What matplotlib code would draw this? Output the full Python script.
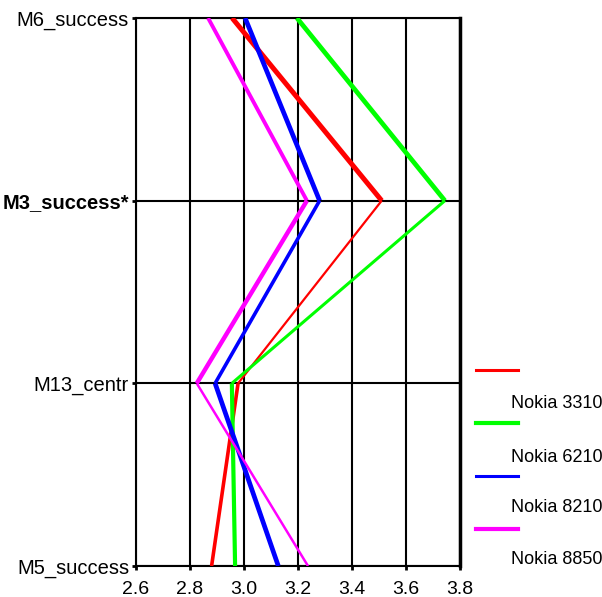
import matplotlib
matplotlib.use("Agg")
import matplotlib.pyplot as plt
from matplotlib.lines import Line2D

# categories, top to bottom
measures = ["M6_success", "M3_success*", "M13_centr", "M5_success"]
phones = ["Nokia 3310", "Nokia 6210", "Nokia 8210", "Nokia 8850"]

# mean values per phone, in the order of measures
nokia_3310 = [2.956, 3.51, 2.978, 2.88]
nokia_6210 = [3.196, 3.744, 2.955, 2.967]
nokia_8210 = [3.004, 3.28, 2.893, 3.127]
nokia_8850 = [2.867, 3.233, 2.825, 3.237]

x_ticks = [2.6, 2.8, 3.0, 3.2, 3.4, 3.6, 3.8]

# drawing style
colors = ["#ff0000", "#00ff00", "#0000ff", "#ff00ff"]
seg_widths = [[3.6, 1.6, 2.6], [3.4, 2.2, 3.0], [3.4, 2.6, 3.4], [2.8, 3.2, 1.8]]
legend_widths = [2.2, 3.0, 2.2, 3.0]


def main():
    plt.rcParams["font.family"] = ["Liberation Sans", "DejaVu Sans"]
    plt.rcParams["font.size"] = 14

    fig = plt.figure(figsize=(6.02, 5.97), dpi=100)
    ax = fig.add_axes([136 / 602, 1 - 566 / 597, 324 / 602, 548 / 597])

    ypos = list(range(len(measures)))
    series = [nokia_3310, nokia_6210, nokia_8210, nokia_8850]
    for vals, col, widths in zip(series, colors, seg_widths):
        for i in range(len(vals) - 1):
            ax.plot(vals[i:i + 2], ypos[i:i + 2], color=col, lw=widths[i],
                    solid_capstyle="butt", zorder=3)

    ax.set_xlim(2.6, 3.8)
    ax.set_ylim(len(measures) - 1, 0)
    ax.set_xticks(x_ticks)
    ax.set_xticklabels([f"{t:.1f}" for t in x_ticks])
    ax.set_yticks(ypos)
    ax.set_yticklabels(measures, fontsize=14.5)
    for lab in ax.get_yticklabels():
        if lab.get_text().endswith("*"):
            lab.set_fontweight("bold")

    ax.grid(True, color="black", lw=1.5, zorder=1)
    ax.tick_params(axis="both", direction="out", length=3, width=2, color="black", pad=2)
    ax.tick_params(axis="x", pad=8)
    for s in ax.spines.values():
        s.set_linewidth(1.5)
        s.set_color("black")
    ax.spines["right"].set_linewidth(2.5)

    # manual legend, labels sit below each swatch
    line_y = [370, 423, 476, 529]
    text_y = [404, 457, 508, 560]
    for col, lw, ly, ty, name in zip(colors, legend_widths, line_y, text_y, phones):
        fig.add_artist(Line2D([476 / 602, 518 / 602], [1 - ly / 597, 1 - ly / 597],
                              color=col, lw=lw, transform=fig.transFigure))
        fig.text(511 / 602, 1 - ty / 597, name, ha="left", va="center", fontsize=13)

    fig.savefig("out.png", dpi=100)


if __name__ == "__main__":
    main()
